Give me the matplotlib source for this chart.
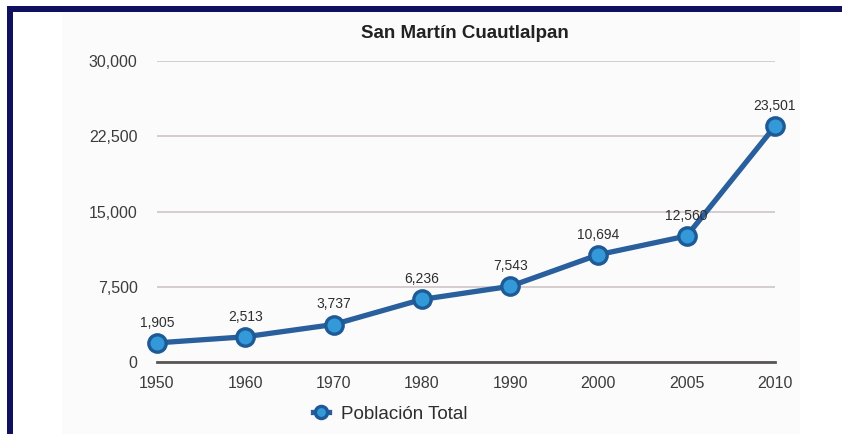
import matplotlib.pyplot as plt
from matplotlib.patches import Rectangle
from matplotlib.ticker import FuncFormatter

years = ['1950', '1960', '1970', '1980', '1990', '2000', '2005', '2010']
poblacion = [1905, 2513, 3737, 6236, 7543, 10694, 12560, 23501]
y_ticks = [0, 7500, 15000, 22500, 30000]

plt.rcParams['font.family'] = ['Liberation Sans', 'DejaVu Sans']

fig = plt.figure(figsize=(8.42, 4.34), dpi=100)
W, H = 842, 434

# faint chart panel and the dark frame on left/top
fig.patches.append(Rectangle((62 / W, 0), 738 / W, 1 - 12 / H, transform=fig.transFigure,
                             facecolor='#fbfbfb', edgecolor='none', zorder=-2))
fig.patches.append(Rectangle((7 / W, 0), 6 / W, 1 - 6 / H, transform=fig.transFigure,
                             facecolor='#10105e', edgecolor='none', zorder=-1))
fig.patches.append(Rectangle((7 / W, 1 - 12 / H), 1, 6 / H, transform=fig.transFigure,
                             facecolor='#10105e', edgecolor='none', zorder=-1))

ax = fig.add_axes([157 / W, 1 - 362 / H, (775 - 157) / W, (362 - 61) / H])
ax.set_facecolor('none')
ax.set_zorder(2)

x = list(range(len(years)))
line, = ax.plot(x, poblacion, color='#285f9c', lw=3.8, marker='o', markersize=12.5,
                markerfacecolor='#3399d8', markeredgecolor='#1d5a96', markeredgewidth=2.4,
                clip_on=False, zorder=3, label='Población Total')

for xi, v in zip(x, poblacion):
    ax.annotate(f'{v:,}', (xi, v), xytext=(0, 14.5), textcoords='offset points',
                ha='center', va='center', fontsize=10, color='#2e2e2e', zorder=4)

ax.set_xlim(0, len(years) - 1)
ax.set_ylim(0, 30000)
ax.set_xticks(x)
ax.set_xticklabels(years)
ax.set_yticks(y_ticks)
ax.yaxis.set_major_formatter(FuncFormatter(lambda v, p: f'{int(v):,}'))
ax.tick_params(axis='both', length=0, labelsize=11.5, labelcolor='#3c3c3c')
ax.tick_params(axis='y', pad=14)
ax.tick_params(axis='x', pad=10)

ax.grid(axis='y', color='#cfc6c6', lw=1.2)
ax.set_axisbelow(True)
for s in ['top', 'right', 'left']:
    ax.spines[s].set_visible(False)
ax.spines['bottom'].set_color('#5a5656')
ax.spines['bottom'].set_linewidth(2)
ax.spines['bottom'].set_zorder(2)

fig.text(465 / W, 1 - 33 / H, 'San Martín Cuautlalpan', ha='center', va='center',
         fontsize=13.5, fontweight='bold', color='#222222')

leg = fig.legend(handles=[line], loc='center left', bbox_to_anchor=(305 / W, 1 - 414 / H),
                 frameon=False, fontsize=13.5, handlelength=0.9, handletextpad=0.6,
                 markerscale=0.7, borderaxespad=0)
for t in leg.get_texts():
    t.set_color('#2e2e2e')

fig.savefig('out.png', dpi=100)
